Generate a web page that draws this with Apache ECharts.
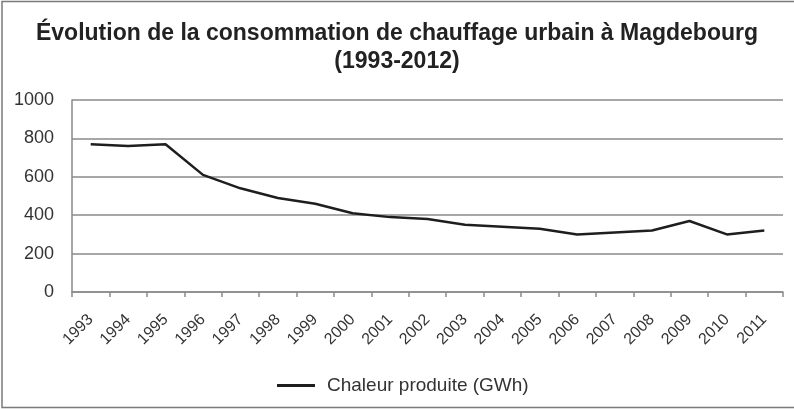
<!DOCTYPE html>
<html>
<head>
    <meta charset="utf-8">
    <title>Chauffage urbain Magdebourg</title>
    <style>
        html, body { margin: 0; padding: 0; background: #fff; }
        #chart { width: 794px; height: 409px; }
    </style>
</head>
<body>
    <div id="chart"></div>
    <script src="https://cdn.jsdelivr.net/npm/echarts@6/dist/echarts.min.js"></script>
    <script>
        // données
        var years = ['1993', '1994', '1995', '1996', '1997', '1998', '1999', '2000', '2001', '2002',
            '2003', '2004', '2005', '2006', '2007', '2008', '2009', '2010', '2011'];
        var chaleur = [770, 760, 770, 610, 540, 490, 460, 410, 390, 380,
            350, 340, 330, 300, 310, 320, 370, 300, 320];
        var seriesName = 'Chaleur produite (GWh)';

        var chart = echarts.init(document.getElementById('chart'));
        var font = '"Liberation Sans", Arial, sans-serif';

        chart.setOption({
            animation: false,
            backgroundColor: '#fff',
            textStyle: { fontFamily: font },
            title: {
                text: 'Évolution de la consommation de chauffage urbain à Magdebourg\n(1993-2012)',
                left: 'center',
                top: 15,
                textStyle: { fontFamily: font, fontSize: 23, fontWeight: 'bold', color: '#222', lineHeight: 28 }
            },
            graphic: [{
                type: 'rect',
                shape: { x: 2, y: 1.5, width: 800, height: 406 },
                style: { fill: 'none', stroke: '#7a7a7a', lineWidth: 1.5 },
                silent: true
            }],
            legend: {
                top: 371,
                left: 272,
                icon: 'rect',
                itemWidth: 38,
                itemHeight: 3,
                itemGap: 10,
                data: [seriesName],
                textStyle: { fontFamily: font, fontSize: 19, color: '#333', padding: [0, 0, 0, 7] }
            },
            grid: { left: 72, right: 11, top: 100, bottom: 117 },
            xAxis: {
                type: 'category',
                data: years,
                boundaryGap: true,
                axisLine: { lineStyle: { color: '#8a8a8a', width: 1.5 } },
                axisTick: { show: true, length: 5, lineStyle: { color: '#8a8a8a', width: 1.5 } },
                axisLabel: { rotate: 45, margin: 25, fontSize: 16, color: '#333', interval: 0, fontFamily: font }
            },
            yAxis: {
                type: 'value',
                min: 0,
                max: 1000,
                interval: 200,
                axisLine: { show: true, lineStyle: { color: '#8a8a8a', width: 1.5 } },
                axisTick: { show: false },
                splitLine: { lineStyle: { color: '#8a8a8a', width: 1.5 } },
                axisLabel: {
                    margin: 18, fontSize: 18, color: '#333', fontFamily: font,
                    formatter: function (v) { return String(v); }
                }
            },
            series: [{
                name: seriesName,
                type: 'line',
                data: chaleur,
                showSymbol: false,
                symbol: 'none',
                lineStyle: { color: '#1e1e1e', width: 2.5 },
                itemStyle: { color: '#1e1e1e' }
            }]
        });
    </script>
</body>
</html>
